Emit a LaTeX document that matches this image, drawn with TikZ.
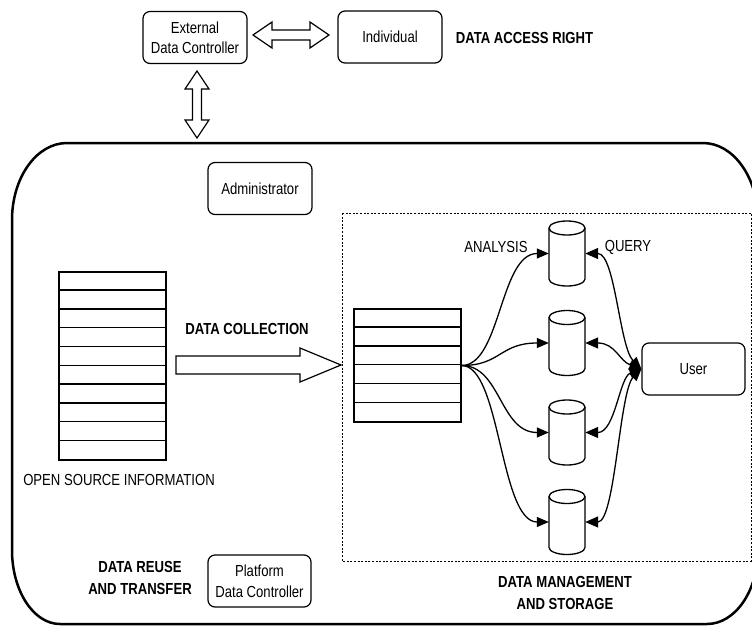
\documentclass[tikz,border=0pt]{standalone}
\usepackage{fontspec}
\setmainfont{Liberation Sans}[FakeStretch=0.82]
\usetikzlibrary{arrows.meta}
\begin{document}
\begin{tikzpicture}[x=1pt,y=-1pt,
  font=\fontsize{16}{20}\selectfont,
  box/.style={draw, rounded corners=7pt, line width=1.2pt, minimum width=104pt, minimum height=52pt, align=center, inner sep=2pt},
  lbl/.style={font=\fontsize{16}{22}\selectfont\bfseries, align=center, inner sep=0pt},
  plain/.style={inner sep=0pt},
  blockarrow/.style={draw, fill=white, line width=1.2pt, line join=miter},
  flow/.style={line width=1.3pt, -{Triangle[length=12pt,width=10pt]}},
  biflow/.style={line width=1.3pt, {Triangle[length=12pt,width=10pt]}-{Triangle[length=13pt,width=11pt]}},
  listbox/.style={draw, line width=1.4pt, inner sep=0pt, minimum width=107pt},
  cylbox/.style={inner sep=0pt, minimum width=36pt, minimum height=65pt},
  cylline/.style={line width=1.3pt, fill=white},
  bigframe/.style={line width=2.5pt},
  dashframe/.style={line width=1pt, dash pattern=on 2pt off 1.6pt}
]
\clip (0,0) rectangle (752,626);

% big rounded frame
\draw[bigframe] (67,143) -- (703,143)
  .. controls (733.4,143) and (758,177.5) .. (758,220)
  -- (758,550)
  .. controls (758,590.8) and (735.2,624) .. (707,624)
  -- (60,624)
  .. controls (33.5,624) and (12,590.8) .. (12,550)
  -- (12,220)
  .. controls (12,177.5) and (36.6,143) .. (67,143) -- cycle;

% dashed management area
\draw[dashframe] (342,213) rectangle (751,561);

% top boxes
\node[box] (edc) at (195,37.5) {External\\Data Controller};
\node[box] (ind) at (390,37) {Individual};
\node[lbl] (dar) at (524.5,38) {DATA ACCESS RIGHT};

% horizontal double block arrow
\draw[blockarrow] (253,35) -- (272,22) -- (272,30) -- (310,30) -- (310,22) -- (329,35)
  -- (310,48) -- (310,40) -- (272,40) -- (272,48) -- cycle;
% vertical double block arrow
\draw[blockarrow] (197,71) -- (209,89) -- (201.5,89) -- (201.5,120) -- (209,120) -- (197,138)
  -- (185,120) -- (192.5,120) -- (192.5,89) -- (185,89) -- cycle;

% administrator / platform
\node[box] (adm) at (260,188.5) {Administrator};
\node[box, minimum width=103pt, font=\fontsize{16}{21}\selectfont] (pdc) at (259.5,581) {Platform\\Data Controller};
\node[lbl] (reuse) at (140,578) {DATA REUSE\\AND TRANSFER};
\node[lbl] (mgmt) at (565,593) {DATA MANAGEMENT\\AND STORAGE};

% open source list
\node[listbox, minimum height=188pt] (osi) at (112.5,366) {};
\foreach \i in {1,...,9} {
  \draw[line width=1.4pt] ([yshift=-\i*18.8pt]osi.north west) -- ([yshift=-\i*18.8pt]osi.north east);
}
\node[plain] (osilbl) at (119,480) {OPEN SOURCE INFORMATION};

% data collection arrow
\node[lbl] (dcl) at (247,329) {DATA COLLECTION};
\draw[blockarrow] (176,356) -- (300,356) -- (300,348) -- (341,365) -- (300,382) -- (300,374) -- (176,374) -- cycle;

% collected data list
\node[listbox, minimum height=113pt] (dl) at (407.5,365.5) {};
\foreach \i in {1,...,5} {
  \draw[line width=1.4pt] ([yshift=-\i*18.83pt]dl.north west) -- ([yshift=-\i*18.83pt]dl.north east);
}

% cylinders
\foreach \n/\cy in {c1/253.5, c2/343, c3/432.5, c4/522} {
  \node[cylbox] (\n) at (567,\cy) {};
  \draw[cylline] (549,\cy-25.5) -- (549,\cy+25.5)
    arc[start angle=180, end angle=360, x radius=18pt, y radius=7pt]
    -- (585,\cy-25.5);
  \draw[cylline] (567,\cy-25.5) ellipse[x radius=18pt, y radius=7pt];
}

% user
\node[box, minimum width=103pt] (user) at (693.5,369) {User};

% labels
\node[plain] (ana) at (496,247) {ANALYSIS};
\node[plain] (qry) at (628,247) {QUERY};

% analysis flows
\foreach \n in {c1,c2,c3,c4} {
  \draw[flow] (dl.east) .. controls +(39,0) and +(-49,0) .. (\n.west);
}
% query flows
\foreach \n/\dy in {c1/-22,c2/-8,c3/8,c4/22} {
  \draw[biflow] (user.west) .. controls +(-22,\dy) and +(30,0) .. (\n.east);
}
\end{tikzpicture}
\end{document}
